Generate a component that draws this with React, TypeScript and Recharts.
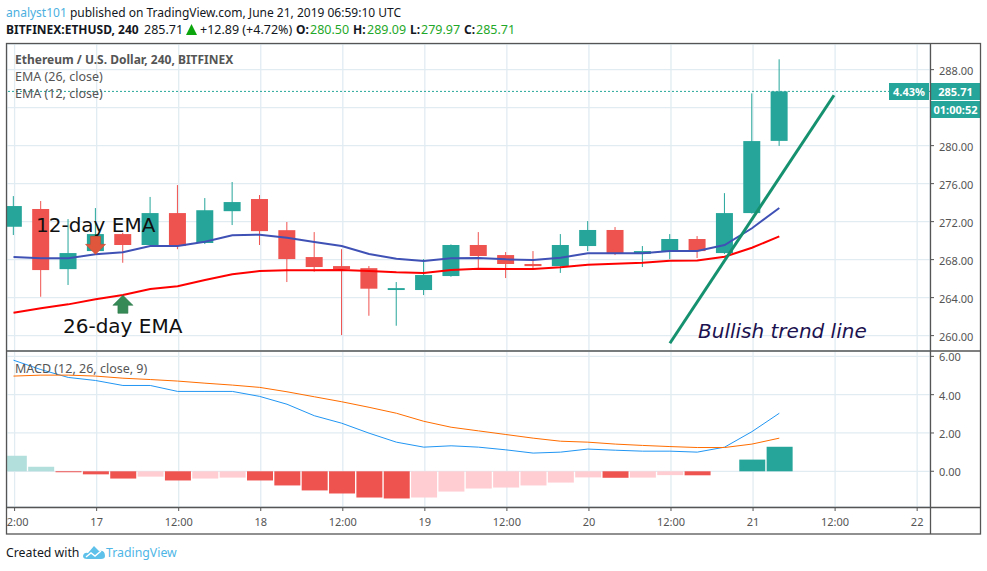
import React from "react"
import { Bar, CartesianGrid, Cell, ComposedChart, Line, ReferenceDot, ReferenceLine, XAxis, YAxis } from "recharts"

const open = [271.46, 273.33, 267.0, 268.9, 270.69, 269.54, 272.9, 269.75, 273.1, 274.38, 271.1, 268.27, 267.32, 267.1, 264.8, 264.8, 266.27, 269.54, 268.48, 267.54, 267.32, 269.43, 271.12, 268.59, 268.9, 270.17, 268.69, 272.9, 280.5]
const high = [274.69, 274.17, 272.27, 273.43, 270.83, 274.6, 275.85, 274.48, 276.17, 274.8, 271.96, 270.9, 269.1, 267.32, 265.64, 268.06, 269.6, 270.9, 268.8, 268.9, 270.69, 272.06, 271.43, 269.43, 270.69, 270.48, 275.0, 285.5, 289.09]
const low = [270.59, 264.09, 265.33, 268.7, 267.67, 269.5, 269.1, 269.64, 271.64, 269.54, 265.64, 266.73, 260.06, 262.09, 261.04, 264.27, 266.2, 267.12, 266.06, 267.0, 266.6, 268.9, 268.48, 267.22, 268.06, 268.17, 268.6, 272.85, 279.97]
const close = [273.64, 266.9, 268.69, 270.69, 269.54, 272.9, 269.43, 273.2, 274.06, 271.0, 268.06, 267.22, 267.0, 264.94, 265.0, 266.38, 269.54, 268.38, 267.54, 267.32, 269.54, 271.12, 268.59, 268.9, 270.17, 268.9, 272.9, 280.48, 285.71]
const ema26 = [268.27, 268.14, 268.14, 268.56, 268.77, 269.43, 269.43, 269.88, 270.56, 270.62, 270.3, 269.85, 269.43, 268.59, 268.09, 267.85, 268.14, 268.17, 268.03, 267.96, 268.2, 268.66, 268.66, 268.66, 268.9, 268.9, 269.54, 271.3, 273.43]
const ema12 = [262.41, 262.87, 263.29, 263.82, 264.27, 264.9, 265.19, 265.85, 266.45, 266.8, 266.87, 266.87, 266.9, 266.8, 266.66, 266.59, 266.9, 267.04, 267.0, 267.0, 267.19, 267.46, 267.57, 267.67, 267.89, 267.92, 268.3, 269.25, 270.45]
const macd = [5.8, 5.31, 4.9, 4.74, 4.48, 4.48, 4.17, 4.17, 4.17, 3.91, 3.5, 2.9, 2.51, 1.99, 1.52, 1.26, 1.33, 1.26, 1.12, 0.95, 1.0, 1.16, 1.1, 1.05, 1.05, 1.0, 1.26, 2.07, 3.03]
const signal = [4.97, 5.02, 5.02, 4.97, 4.86, 4.79, 4.71, 4.6, 4.5, 4.38, 4.15, 3.89, 3.63, 3.34, 3.03, 2.61, 2.3, 2.11, 1.92, 1.73, 1.57, 1.52, 1.42, 1.35, 1.29, 1.24, 1.24, 1.42, 1.73]
const hist = [0.81, 0.24, -0.05, -0.16, -0.38, -0.28, -0.48, -0.38, -0.33, -0.48, -0.74, -1.0, -1.16, -1.37, -1.42, -1.37, -1.06, -0.9, -0.85, -0.74, -0.59, -0.32, -0.34, -0.33, -0.2, -0.21, 0, 0.61, 1.28]

const xTickValues = [0.04, 3.04, 6.04, 9.04, 12.04, 15.04, 18.04, 21.04, 24.04, 27.04, 30.04, 33.04]
const xTickLabels = ["12:00", "17", "12:00", "18", "12:00", "19", "12:00", "20", "12:00", "21", "12:00", "22"]
const priceTicks = [260, 264, 268, 272, 276, 280, 284, 288]
const macdTicks = [0, 2, 4, 6]

const GREEN = "#26a69a"
const RED = "#ef5350"
const GRID = "#e1ecf2"
const FRAME = "#555555"
const FONT = "'Noto Sans', sans-serif"
const X_DOMAIN = [-0.238, 33.51]
const PRICE_DOMAIN = [258.38, 290.7]

const rows = open.map((o, i) => ({
  i,
  open: o,
  close: close[i],
  high: high[i],
  low: low[i],
  range: [low[i], high[i]],
  ema26: ema26[i],
  ema12: ema12[i],
  macd: macd[i],
  signal: signal[i],
  hist: hist[i],
}))

function histColor(i: number) {
  const v = hist[i]
  if (i === 0) return "#b2dfdb"
  if (v >= 0) return v < hist[i - 1] ? "#b2dfdb" : GREEN
  return v < hist[i - 1] ? RED : "#ffcdd2"
}

function Candle(props: any) {
  const { x, y, width, height, payload } = props
  const h = Math.abs(height)
  const perUnit = h / (payload.high - payload.low)
  const top = y + (payload.high - Math.max(payload.open, payload.close)) * perUnit
  const bodyH = Math.abs(payload.open - payload.close) * perUnit
  const color = payload.close >= payload.open ? GREEN : RED
  return (
    <g>
      <rect x={x + width / 2 - 0.5} y={y} width={1} height={h} fill={color} />
      <rect x={x} y={top} width={width} height={Math.max(bodyH, 1)} fill={color} />
    </g>
  )
}

function ArrowDown(props: any) {
  const { cx, cy } = props
  return (
    <path
      d={`M${cx - 5} ${cy - 9}h10v8h5l-10 10l-10 -10h5z`}
      fill="#e0563c"
      stroke="#c9492f"
      strokeWidth={0.6}
    />
  )
}

function ArrowUp(props: any) {
  const { cx, cy } = props
  return (
    <path
      d={`M${cx - 5} ${cy + 9}h10v-8h5l-10 -10l-10 10h5z`}
      fill="#358a55"
      stroke="#2c7748"
      strokeWidth={0.6}
    />
  )
}

const abs = (left: number, top: number, extra: React.CSSProperties = {}): React.CSSProperties => ({
  position: "absolute",
  left,
  top,
  whiteSpace: "nowrap",
  ...extra,
})

function Label({ left, top, text, style }: { left: number; top: number; text: string; style?: React.CSSProperties }) {
  return <div style={abs(left, top, style)}>{text}</div>
}

function Header() {
  const base: React.CSSProperties = { fontSize: 12.5, lineHeight: "16px", color: "#131722" }
  const first: React.CSSProperties = { ...base, fontSize: 12 }
  const bold: React.CSSProperties = { ...base, fontSize: 12, fontWeight: 700 }
  const value: React.CSSProperties = { ...base, color: "#1fa82a" }
  return (
    <>
      <div style={abs(6, 5, first)}>
        <span style={{ color: "#4cb0e0" }}>analyst101</span> published on TradingView.com, June 21, 2019 06:59:10 UTC
      </div>
      <Label left={6} top={22} text="BITFINEX:ETHUSD, 240" style={bold} />
      <Label left={144} top={22} text="285.71" style={base} />
      <svg style={abs(186, 24)} width={11} height={11}>
        <polygon points="5.5,0 11,11 0,11" fill="#0da50d" />
      </svg>
      <Label left={200} top={22} text="+12.89 (+4.72%)" style={base} />
      <Label left={296} top={22} text="O:" style={bold} />
      <Label left={310} top={22} text="280.50" style={value} />
      <Label left={353} top={22} text="H:" style={bold} />
      <Label left={367} top={22} text="289.09" style={value} />
      <Label left={410} top={22} text="L:" style={bold} />
      <Label left={421} top={22} text="279.97" style={value} />
      <Label left={464} top={22} text="C:" style={bold} />
      <Label left={476} top={22} text="285.71" style={value} />
    </>
  )
}

function PaneText() {
  const legend: React.CSSProperties = { fontSize: 12.5, lineHeight: "16px", color: "#555" }
  const note: React.CSSProperties = { fontFamily: "'DejaVu Sans', sans-serif", fontSize: 20, lineHeight: "24px", color: "#111" }
  const box: React.CSSProperties = {
    background: GREEN,
    color: "#fff",
    fontSize: 11,
    fontWeight: 700,
    textAlign: "center",
    lineHeight: "17px",
    height: 17,
  }
  return (
    <>
      <Label left={15} top={52} text="Ethereum / U.S. Dollar, 240, BITFINEX" style={{ ...legend, fontSize: 12, fontWeight: 700 }} />
      <Label left={15} top={69} text="EMA (26, close)" style={legend} />
      <Label left={15} top={86} text="EMA (12, close)" style={legend} />
      <Label left={15} top={361} text="MACD (12, 26, close, 9)" style={legend} />
      <Label left={36} top={213} text="12-day EMA" style={note} />
      <Label left={63} top={314} text="26-day EMA" style={note} />
      <Label left={698} top={319} text="Bullish trend line" style={{ ...note, fontStyle: "italic", color: "#1c1250" }} />
      <Label left={889} top={83} text="4.43%" style={{ ...box, width: 40 }} />
      <Label left={931} top={83} text="285.71" style={{ ...box, width: 49 }} />
      <Label left={931} top={101} text="01:00:52" style={{ ...box, width: 49 }} />
    </>
  )
}

function Frame() {
  return (
    <svg style={abs(0, 0, { pointerEvents: "none" })} width={987} height={571}>
      <rect x={0} y={508} width={6} height={25} fill="#fff" />
      <g stroke={FRAME} strokeWidth={1.3} fill="none">
        <rect x={6.5} y={43.5} width={974} height={490.5} />
        <line x1={6.5} y1={351} x2={980.5} y2={351} />
        <line x1={6.5} y1={507.5} x2={980.5} y2={507.5} />
        <line x1={930.5} y1={43.5} x2={930.5} y2={534} />
      </g>
    </svg>
  )
}

function Footer() {
  const foot: React.CSSProperties = { fontSize: 12.3, lineHeight: "18px" }
  return (
    <>
      <Label left={6} top={544} text="Created with" style={{ ...foot, color: "#131722" }} />
      <svg style={abs(82, 545)} width={24} height={16}>
        <path d="M1 11 Q2 7 6 8 L12 1 L17 6 Q23 5 23 11 Q23 14 19 14 L5 14 Q1 14 1 11 Z" fill="#5ec1ea" />
        <path d="M4 12 L9 8 L13 11 L19 6" stroke="#fff" strokeWidth={1.5} fill="none" />
      </svg>
      <Label left={106} top={544} text="TradingView" style={{ ...foot, color: "#4fb6e6" }} />
    </>
  )
}

export default function App() {
  return (
    <div style={{ position: "absolute", left: 0, top: 0, width: 987, height: 571, fontFamily: FONT, background: "#fff" }}>
      <Header />
      <div style={abs(0, 44)}>
        <ComposedChart width={987} height={307} data={rows} margin={{ top: 0, right: 6, bottom: 0, left: 7 }}>
          <CartesianGrid stroke={GRID} strokeWidth={1.3} />
          <XAxis dataKey="i" type="number" domain={X_DOMAIN} ticks={xTickValues} allowDataOverflow hide />
          <YAxis
            orientation="right"
            width={51}
            domain={PRICE_DOMAIN}
            ticks={priceTicks}
            allowDataOverflow
            axisLine={false}
            tickSize={4}
            tickMargin={5}
            tick={{ fill: "#555", fontSize: 11, fontFamily: FONT, dy: 1 }}
            tickLine={{ stroke: FRAME }}
            tickFormatter={(v: number) => (v === 284 ? "" : v.toFixed(2))}
          />
          <ReferenceLine y={285.71} stroke={GREEN} strokeDasharray="2 2" />
          <Line dataKey="ema26" stroke="#3f51b5" strokeWidth={2} dot={false} isAnimationActive={false} />
          <Line dataKey="ema12" stroke="#ff0000" strokeWidth={2} dot={false} isAnimationActive={false} />
          <Bar dataKey="range" barSize={17} shape={<Candle />} isAnimationActive={false} />
          <ReferenceLine segment={[{ x: 24, y: 259.2 }, { x: 30, y: 285.3 }]} stroke="#16916f" strokeWidth={3} />
        </ComposedChart>
      </div>
      {/* arrows sit on top of the candles, so they get their own transparent layer with the same scales */}
      <div style={abs(0, 44)}>
        <ComposedChart width={987} height={307} data={rows} margin={{ top: 0, right: 57, bottom: 0, left: 7 }}>
          <XAxis dataKey="i" type="number" domain={X_DOMAIN} allowDataOverflow hide />
          <YAxis domain={PRICE_DOMAIN} allowDataOverflow hide />
          <ReferenceDot x={3} y={269.5} shape={<ArrowDown />} />
          <ReferenceDot x={4} y={263.3} shape={<ArrowUp />} />
        </ComposedChart>
      </div>
      <div style={abs(0, 341)}>
        <ComposedChart width={987} height={193} data={rows} margin={{ top: 10, right: 6, bottom: 0, left: 7 }}>
          <CartesianGrid stroke={GRID} strokeWidth={1.3} />
          <XAxis
            dataKey="i"
            type="number"
            domain={X_DOMAIN}
            ticks={xTickValues}
            allowDataOverflow
            interval={0}
            height={27}
            axisLine={false}
            tickSize={4}
            tickMargin={7}
            tick={{ fill: "#555", fontSize: 11, fontFamily: FONT }}
            tickLine={{ stroke: FRAME }}
            tickFormatter={(_: number, idx: number) => xTickLabels[idx]}
          />
          <YAxis
            orientation="right"
            width={51}
            domain={[-1.865, 6.28]}
            ticks={macdTicks}
            allowDataOverflow
            axisLine={false}
            tickSize={4}
            tickMargin={5}
            tick={{ fill: "#555", fontSize: 11, fontFamily: FONT, dy: 1 }}
            tickLine={{ stroke: FRAME }}
            tickFormatter={(v: number) => v.toFixed(2)}
          />
          <Bar dataKey="hist" barSize={26} isAnimationActive={false}>
            {rows.map((r) => (
              <Cell key={r.i} fill={histColor(r.i)} />
            ))}
          </Bar>
          <Line dataKey="macd" stroke="#2196f3" strokeWidth={1} dot={false} isAnimationActive={false} />
          <Line dataKey="signal" stroke="#ff6d00" strokeWidth={1} dot={false} isAnimationActive={false} />
        </ComposedChart>
      </div>
      <PaneText />
      <Frame />
      <Footer />
    </div>
  )
}
